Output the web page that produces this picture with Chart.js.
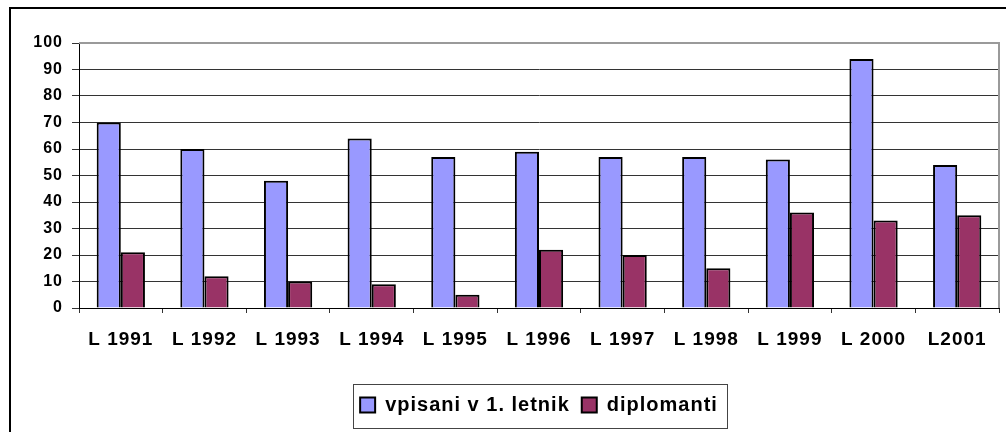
<!DOCTYPE html>
<html>
<head>
<meta charset="utf-8">
<script src="https://cdn.jsdelivr.net/npm/chart.js@4/dist/chart.umd.min.js"></script>
<style>
  html, body { margin: 0; padding: 0; background: #fff; overflow: hidden; }
  #wrap { position: relative; width: 1006px; height: 432px; }
  #frame { position: absolute; left: 9px; top: 7px; width: 1100px; height: 600px; border: 2px solid #000; box-sizing: border-box; }
  canvas { position: absolute; left: 0; top: 0; }
</style>
</head>
<body>
<div id="wrap">
  <div id="frame"></div>
  <canvas id="c" width="1006" height="432"></canvas>
</div>
<script>
const categories = ['L 1991', 'L 1992', 'L 1993', 'L 1994', 'L 1995', 'L 1996', 'L 1997', 'L 1998', 'L 1999', 'L 2000', 'L2001'];
const vpisani = [70, 60, 48, 64, 57, 59, 57, 57, 56, 94, 54];
const diplomanti = [21, 12, 10, 9, 5, 22, 20, 15, 36, 33, 35];
const yTicks = [0, 10, 20, 30, 40, 50, 60, 70, 80, 90, 100];

const FONT = '"Liberation Sans", Arial, sans-serif';

const spacingPlugin = {
  id: 'spacing',
  beforeLayout(c) { c.ctx.letterSpacing = '1px'; },
  beforeDraw(c) { c.ctx.letterSpacing = '1px'; }
};

const borderPlugin = {
  id: 'plotBorder',
  beforeDatasetsDraw(c) {
    const a = c.chartArea, ctx = c.ctx;
    ctx.save();
    ctx.strokeStyle = '#9a9a9a';
    ctx.lineWidth = 2;
    ctx.beginPath();
    ctx.moveTo(a.left, a.top);
    ctx.lineTo(a.right, a.top);
    ctx.lineTo(a.right, a.bottom);
    ctx.stroke();
    ctx.restore();
  }
};

const legendBoxPlugin = {
  id: 'legendBox',
  afterDraw(c) {
    const hb = c.legend && c.legend.legendHitBoxes;
    if (!hb || !hb.length) return;
    const first = hb[0], last = hb[hb.length - 1];
    const cy = first.top + first.height / 2;
    const x0 = Math.round(first.left - 7) + 0.5;
    const x1 = Math.round(last.left + last.width + 9) + 0.5;
    const y0 = Math.round(cy - 21) + 0.5;
    const ctx = c.ctx;
    ctx.save();
    ctx.strokeStyle = '#444';
    ctx.lineWidth = 1;
    ctx.strokeRect(x0, y0, x1 - x0, 44);
    ctx.restore();
  }
};

new Chart(document.getElementById('c'), {
  type: 'bar',
  data: {
    labels: categories,
    datasets: [
      { label: 'vpisani v 1. letnik', data: vpisani, backgroundColor: '#9999FF', borderColor: '#000', borderWidth: 2, categoryPercentage: 0.577, barPercentage: 1.0 },
      { label: 'diplomanti', data: diplomanti, backgroundColor: '#993366', borderColor: '#000', borderWidth: 2, categoryPercentage: 0.577, barPercentage: 1.0 }
    ]
  },
  options: {
    responsive: false,
    animation: false,
    devicePixelRatio: 1,
    layout: { padding: { top: 43, right: 7, bottom: 7, left: 0 } },
    plugins: {
      legend: {
        position: 'bottom',
        fullSize: false,
        labels: {
          boxWidth: 15,
          boxHeight: 15,
          padding: 12,
          color: '#000',
          font: { family: FONT, size: 20, weight: 'bold' }
        }
      },
      tooltip: { enabled: false },
      title: { display: false }
    },
    scales: {
      x: {
        grid: { display: true, drawOnChartArea: false, tickLength: 5, color: '#333', offset: true },
        border: { display: true, color: '#000', width: 1 },
        ticks: { color: '#000', padding: 15, maxRotation: 0, autoSkip: false, font: { family: FONT, size: 19, weight: 'bold' } },
        afterFit(s) { s.height = 75; }
      },
      y: {
        min: 0,
        max: 100,
        afterBuildTicks(s) { s.ticks = yTicks.map(v => ({ value: v })); },
        grid: {
          color: (ctx) => (ctx.tick && ctx.tick.value === 100 ? 'rgba(0,0,0,0)' : '#333'),
          tickColor: '#333',
          lineWidth: 1,
          tickLength: 7
        },
        border: { display: true, color: '#000', width: 1 },
        ticks: { color: '#000', padding: 9, font: { family: FONT, size: 16, weight: 'bold' } },
        afterFit(s) { s.width = 79; }
      }
    }
  },
  plugins: [spacingPlugin, borderPlugin, legendBoxPlugin]
});
</script>
</body>
</html>
